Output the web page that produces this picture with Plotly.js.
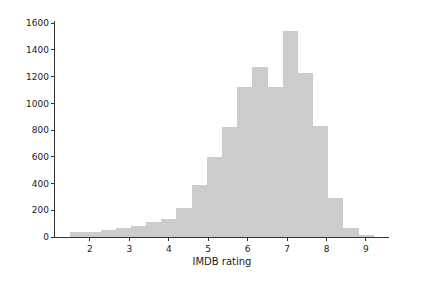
<!DOCTYPE html>
<html>
<head>
<meta charset="utf-8">
<script src="https://cdn.plot.ly/plotly-3.0.1.min.js"></script>
<style>html,body{margin:0;padding:0;background:#fff;}#chart{width:431px;height:292px;}</style>
</head>
<body>
<div id="chart"></div>
<script>
// Histogram bins (left edges) of IMDB rating, width 0.385
const binLeft = [1.5, 1.885, 2.27, 2.655, 3.04, 3.425, 3.81, 4.195, 4.58, 4.965,
                 5.35, 5.735, 6.12, 6.505, 6.89, 7.275, 7.66, 8.045, 8.43, 8.815];
const binWidth = 0.385;
const counts = [39, 40, 49, 64, 86, 114, 136, 217, 390, 602,
                825, 1121, 1269, 1121, 1540, 1225, 832, 292, 69, 15];
const xTicks = [2, 3, 4, 5, 6, 7, 8, 9];
const yTicks = [0, 200, 400, 600, 800, 1000, 1200, 1400, 1600];
const xLabel = "IMDB rating";

const trace = {
  type: "bar",
  x: binLeft,
  y: counts,
  width: binLeft.map(() => binWidth),
  offset: 0,
  marker: {color: "#cccccc", line: {width: 0}},
  hoverinfo: "skip"
};

const tickFont = {family: "DejaVu Sans, sans-serif", size: 9, color: "#1a1a1a"};
const titleFont = {family: "DejaVu Sans, sans-serif", size: 10, color: "#1a1a1a"};

const layout = {
  width: 431, height: 292,
  margin: {l: 55, r: 42, t: 21, b: 55, pad: 0},
  paper_bgcolor: "#ffffff", plot_bgcolor: "#ffffff",
  showlegend: false,
  bargap: 0,
  font: tickFont,
  xaxis: {
    range: [1.115, 9.585],
    tickvals: xTicks, ticktext: xTicks.map(String),
    ticks: "outside", ticklen: 3.5, tickwidth: 0.8, tickcolor: "#000",
    showline: true, linecolor: "#000", linewidth: 0.8,
    showgrid: false, zeroline: false,
    tickfont: tickFont,
    title: {text: xLabel, font: titleFont, standoff: 4}
  },
  yaxis: {
    range: [0, 1617],
    tickvals: yTicks, ticktext: yTicks.map(String),
    ticks: "outside", ticklen: 3.5, tickwidth: 0.8, tickcolor: "#000",
    showline: true, linecolor: "#000", linewidth: 0.8,
    showgrid: false, zeroline: false,
    tickfont: tickFont
  }
};

Plotly.newPlot("chart", [trace], layout, {staticPlot: true, displayModeBar: false});
</script>
</body>
</html>
